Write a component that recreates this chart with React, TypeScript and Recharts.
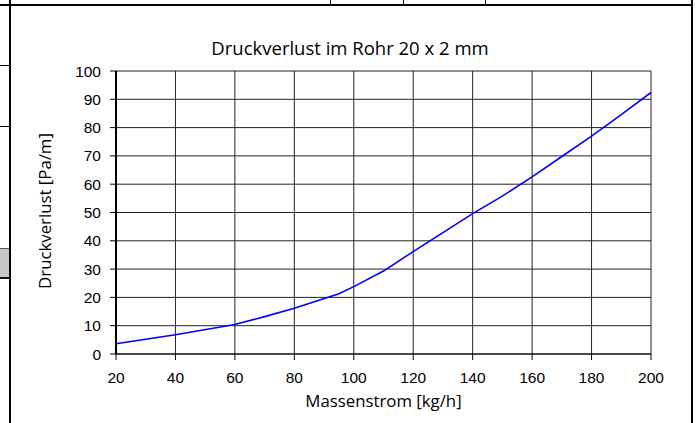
import { LineChart, Line, XAxis, YAxis, CartesianGrid } from 'recharts'

const MASS_FLOW = [20, 40, 60, 70, 80, 95, 100, 110, 120, 130, 140, 150, 160, 170, 180, 190, 200]
const PRESSURE_LOSS = [3.6, 6.8, 10.4, 13.2, 16.2, 21.3, 23.8, 29.3, 36.2, 42.9, 49.6, 55.8, 62.6, 69.8, 77.0, 84.6, 92.4]
const X_TICKS = [20, 40, 60, 80, 100, 120, 140, 160, 180, 200]
const Y_TICKS = [0, 10, 20, 30, 40, 50, 60, 70, 80, 90, 100]

const TITLE = 'Druckverlust im Rohr 20 x 2 mm'
const X_LABEL = 'Massenstrom [kg/h]'
const Y_LABEL = 'Druckverlust [Pa/m]'

const data = MASS_FLOW.map((x, i) => ({ x, v: PRESSURE_LOSS[i] }))

const LABEL_FONT = '"Open Sans", "Noto Sans", sans-serif'
const TICK_STYLE = { fill: '#000', fontFamily: '"Liberation Sans", Arial, sans-serif', fontSize: 15.5 }

function Frame() {
  const line = (s: React.CSSProperties) => (
    <div style={{ position: 'absolute', background: '#000', ...s }} />
  )
  return (
    <>
      {line({ left: 0, top: 4, width: 693, height: 2 })}
      {line({ left: 9, top: 0, width: 2, height: 423 })}
      {line({ left: 691, top: 0, width: 2, height: 423 })}
      {line({ left: 330, top: 0, width: 1, height: 5 })}
      {line({ left: 403, top: 0, width: 1, height: 5 })}
      {line({ left: 485, top: 0, width: 1, height: 5 })}
      {line({ left: 0, top: 65, width: 10, height: 1 })}
      {line({ left: 0, top: 126, width: 10, height: 1 })}
      <div
        style={{
          position: 'absolute',
          left: 0,
          top: 248,
          width: 9,
          height: 28,
          background: '#c8c8c8',
          borderTop: '1px solid #555',
          borderBottom: '2px solid #111',
        }}
      />
    </>
  )
}

export default function App() {
  return (
    <div style={{ position: 'absolute', left: 0, top: 0, width: 696, height: 423, background: '#fff' }}>
      <Frame />
      <div
        style={{
          position: 'absolute',
          left: 350,
          top: 47,
          transform: 'translate(-50%, -50%)',
          whiteSpace: 'nowrap',
          fontFamily: LABEL_FONT,
          fontSize: 18.5,
          color: '#000',
        }}
      >
        {TITLE}
      </div>
      <LineChart
        width={696}
        height={423}
        data={data}
        margin={{ top: 71, right: 45, bottom: 0, left: 56 }}
        style={{ position: 'absolute', left: 0, top: 0 }}
      >
        <CartesianGrid stroke="#222" strokeWidth={1} />
        <XAxis
          dataKey="x"
          type="number"
          domain={[20, 200]}
          ticks={X_TICKS}
          height={69}
          tickSize={6}
          tickMargin={12}
          tick={TICK_STYLE}
          axisLine={{ stroke: '#000' }}
          tickLine={{ stroke: '#000' }}
        />
        <YAxis
          type="number"
          domain={[0, 100]}
          ticks={Y_TICKS}
          width={60}
          tickSize={6}
          tickMargin={9}
          tick={TICK_STYLE}
          axisLine={{ stroke: '#000', strokeWidth: 2 }}
          tickLine={{ stroke: '#000' }}
        />
        <Line
          type="linear"
          dataKey="v"
          stroke="#0000ff"
          strokeWidth={1.6}
          dot={false}
          isAnimationActive={false}
        />
      </LineChart>
      <div
        style={{
          position: 'absolute',
          left: 383.5,
          top: 400,
          transform: 'translate(-50%, -50%)',
          whiteSpace: 'nowrap',
          fontFamily: LABEL_FONT,
          fontSize: 16.8,
          color: '#000',
        }}
      >
        {X_LABEL}
      </div>
      <div
        style={{
          position: 'absolute',
          left: 44,
          top: 211,
          transform: 'translate(-50%, -50%) rotate(-90deg)',
          whiteSpace: 'nowrap',
          fontFamily: LABEL_FONT,
          fontSize: 16.8,
          color: '#000',
        }}
      >
        {Y_LABEL}
      </div>
    </div>
  )
}
